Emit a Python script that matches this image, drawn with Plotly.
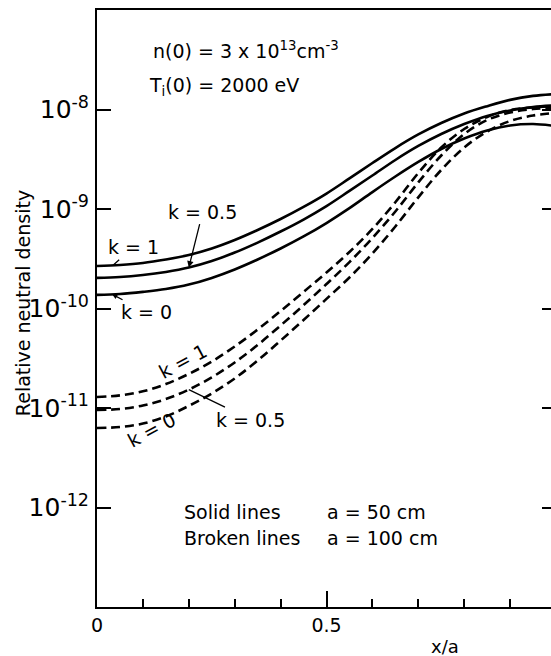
import numpy as np
import plotly.graph_objects as go

# Radial position (x/a) and relative neutral density profiles
x_over_a = [0.0, 0.05, 0.1, 0.15, 0.2, 0.25, 0.3, 0.35, 0.4, 0.45, 0.5,
            0.55, 0.6, 0.65, 0.7, 0.75, 0.8, 0.85, 0.9, 0.95, 1.0]

# Solid lines: a = 50 cm
solid_k1 = [2.67e-10, 2.74e-10, 2.87e-10, 3.11e-10, 3.45e-10, 4.01e-10, 4.88e-10,
            6.15e-10, 7.93e-10, 1.05e-9, 1.43e-9, 2.03e-9, 2.90e-9, 4.10e-9,
            5.61e-9, 7.31e-9, 9.12e-9, 1.08e-8, 1.25e-8, 1.37e-8, 1.43e-8]
solid_k05 = [2.03e-10, 2.07e-10, 2.17e-10, 2.33e-10, 2.58e-10, 3.00e-10, 3.65e-10,
             4.60e-10, 5.94e-10, 7.84e-10, 1.07e-9, 1.52e-9, 2.17e-9, 3.11e-9,
             4.30e-9, 5.67e-9, 7.14e-9, 8.61e-9, 9.77e-9, 1.06e-8, 1.10e-8]
solid_k0 = [1.37e-10, 1.40e-10, 1.47e-10, 1.57e-10, 1.74e-10, 2.03e-10, 2.47e-10,
            3.11e-10, 4.01e-10, 5.30e-10, 7.23e-10, 1.02e-9, 1.48e-9, 2.12e-9,
            2.97e-9, 4.01e-9, 5.11e-9, 6.15e-9, 6.90e-9, 7.14e-9, 6.82e-9]

# Broken lines: a = 100 cm
dash_k1 = [1.29e-11, 1.34e-11, 1.47e-11, 1.74e-11, 2.20e-11, 2.93e-11, 4.15e-11,
           6.15e-11, 9.44e-11, 1.47e-10, 2.30e-10, 3.70e-10, 6.30e-10, 1.17e-9,
           2.30e-9, 4.15e-9, 6.37e-9, 8.41e-9, 9.89e-9, 1.05e-8, 1.08e-8]
dash_k05 = [9.55e-12, 9.77e-12, 1.06e-11, 1.23e-11, 1.53e-11, 2.03e-11, 2.87e-11,
            4.30e-11, 6.75e-11, 1.08e-10, 1.76e-10, 2.93e-10, 5.11e-10, 9.44e-10,
            1.85e-9, 3.45e-9, 5.67e-9, 7.84e-9, 9.33e-9, 1.01e-8, 1.05e-8]
dash_k0 = [6.30e-12, 6.44e-12, 6.98e-12, 8.22e-12, 1.05e-11, 1.40e-11, 1.98e-11,
           3.00e-11, 4.76e-11, 7.66e-11, 1.25e-10, 2.05e-10, 3.57e-10, 6.67e-10,
           1.31e-9, 2.47e-9, 4.15e-9, 6.01e-9, 7.66e-9, 8.71e-9, 9.23e-9]

y_tick_vals = [1e-12, 1e-11, 1e-10, 1e-9, 1e-8]
y_tick_text = ["10<sup>-12</sup>", "10<sup>-11</sup>", "10<sup>-10</sup>",
               "10<sup>-9</sup>", "10<sup>-8</sup>"]
x_tick_vals = [0, 0.5]
x_tick_text = ["0", "0.5"]

FONT = "DejaVu Sans"
INK = "black"

fig = go.Figure()

for ys in (solid_k1, solid_k05, solid_k0):
    fig.add_trace(go.Scatter(
        x=x_over_a, y=ys, mode="lines", hoverinfo="skip",
        line=dict(color=INK, width=2.6, shape="spline", smoothing=1.0)))

for ys in (dash_k1, dash_k05, dash_k0):
    fig.add_trace(go.Scatter(
        x=x_over_a, y=ys, mode="lines", hoverinfo="skip",
        line=dict(color=INK, width=2.6, shape="spline", smoothing=1.0,
                  dash="9px,5px")))

# Invisible copy on the right-hand axis so its tick marks are drawn
fig.add_trace(go.Scatter(x=x_over_a, y=solid_k1, yaxis="y2", mode="lines",
                         hoverinfo="skip", opacity=0,
                         line=dict(width=0, color="white")))


def on_curve(xv, ys):
    """Point on a profile (interpolated in log space), as log10 for annotations."""
    return xv, float(np.interp(xv, x_over_a, np.log10(ys)))


annotations = []
text_font = dict(family=FONT, size=19, color=INK)

# Parameter block
annotations.append(dict(text="n(0) = 3 x 10<sup>13</sup>cm<sup>-3</sup>",
                        xref="paper", yref="paper", x=0.118, y=0.933,
                        xanchor="left", yanchor="middle", showarrow=False,
                        font=dict(family=FONT, size=19, color=INK)))
annotations.append(dict(text="T<sub>i</sub>(0) = 2000 eV",
                        xref="paper", yref="paper", x=0.110, y=0.872,
                        xanchor="left", yanchor="middle", showarrow=False,
                        font=dict(family=FONT, size=19, color=INK)))

# Key for line styles
for label, value, ypos in (("Solid lines", "a = 50 cm", 0.159),
                           ("Broken lines", "a = 100 cm", 0.116)):
    annotations.append(dict(text=label, xref="paper", yref="paper", x=0.187,
                            y=ypos, xanchor="left", yanchor="middle",
                            showarrow=False, font=text_font))
    annotations.append(dict(text=value, xref="paper", yref="paper", x=0.502,
                            y=ypos, xanchor="left", yanchor="middle",
                            showarrow=False, font=text_font))

# Curve labels, solid set
tx, ty = on_curve(0.2, solid_k05)
annotations.append(dict(text="k = 0.5", x=tx, y=ty, ax=14, ay=-56,
                        showarrow=True, arrowhead=2, arrowsize=1,
                        arrowwidth=1.3, arrowcolor=INK, font=text_font))
tx, ty = on_curve(0.035, solid_k1)
annotations.append(dict(text="k = 1", x=tx, y=ty, ax=20, ay=-18,
                        showarrow=True, arrowhead=0, arrowwidth=1.3,
                        arrowcolor=INK, font=text_font))
tx, ty = on_curve(0.033, solid_k0)
annotations.append(dict(text="k = 0", x=tx, y=ty, ax=34, ay=18,
                        showarrow=True, arrowhead=2, arrowsize=0.8,
                        arrowwidth=1.3, arrowcolor=INK, font=text_font))

# Curve labels, broken set
annotations.append(dict(text="k = 1", x=0.187, y=np.log10(3.0e-11),
                        textangle=-28, showarrow=False, font=text_font))
annotations.append(dict(text="k = 0", x=0.118, y=np.log10(6.0e-12),
                        textangle=-28, showarrow=False, font=text_font))
tx, ty = on_curve(0.2, dash_k05)
annotations.append(dict(text="k = 0.5", x=tx, y=ty, ax=62, ay=30,
                        showarrow=True, arrowhead=0, arrowwidth=1.3,
                        arrowcolor=INK, font=text_font))

# Axis titles
annotations.append(dict(text="Relative neutral density", textangle=-90,
                        xref="paper", yref="paper", x=-0.163, y=0.509,
                        xanchor="center", yanchor="middle", showarrow=False,
                        font=text_font))
annotations.append(dict(text="x/a", xref="x", yref="paper", x=0.758, y=-0.066,
                        xanchor="center", yanchor="middle", showarrow=False,
                        font=dict(family=FONT, size=18, color=INK)))

fig.update_layout(
    width=551, height=656,
    margin=dict(l=97, r=0, t=10, b=49),
    paper_bgcolor="white", plot_bgcolor="white",
    showlegend=False,
    annotations=annotations,
    xaxis=dict(range=[0, 454 / 459], showgrid=False, zeroline=False,
               showline=True, linecolor=INK, linewidth=2, mirror=True,
               ticks="inside", ticklen=16, tickwidth=1.5, tickcolor=INK,
               tickvals=x_tick_vals, ticktext=x_tick_text,
               tickfont=dict(family=FONT, size=19, color=INK),
               minor=dict(ticks="inside", tick0=0, dtick=0.1, ticklen=8,
                          tickwidth=1.5, tickcolor=INK)),
    yaxis=dict(type="log", range=[-13, -7], showgrid=False, zeroline=False,
               showline=True, linecolor=INK, linewidth=2,
               ticks="inside", ticklen=14, tickwidth=1.5, tickcolor=INK,
               tickvals=y_tick_vals, ticktext=y_tick_text,
               ticklabelstandoff=1,
               tickfont=dict(family=FONT, size=25, color=INK)),
    yaxis2=dict(type="log", range=[-13, -7], overlaying="y", side="right",
                anchor="x", showgrid=False, zeroline=False, showline=False,
                ticks="inside", ticklen=9, tickwidth=1.5, tickcolor=INK,
                tickvals=y_tick_vals, showticklabels=False),
)

fig.write_html("out.html")
